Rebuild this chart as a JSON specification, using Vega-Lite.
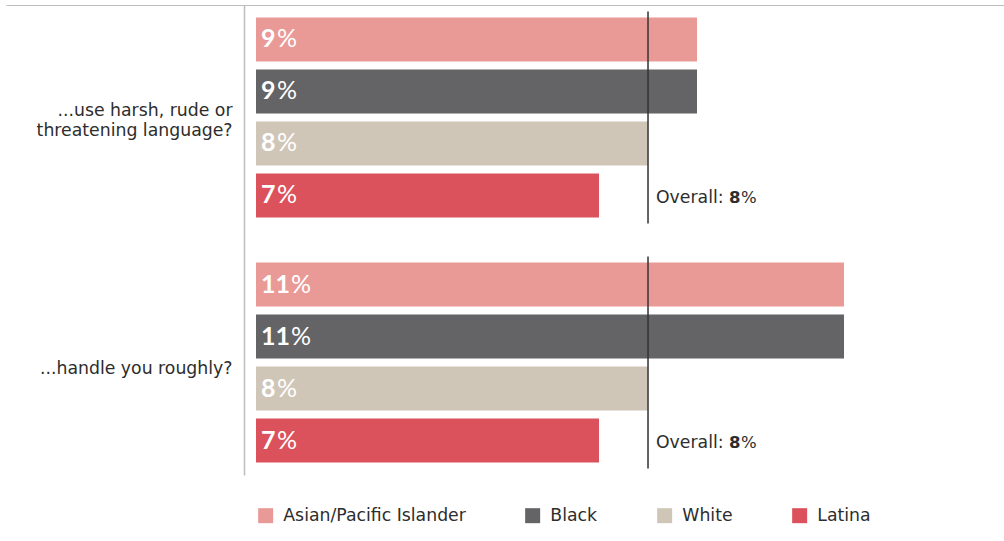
{
  "$schema": "https://vega.github.io/schema/vega-lite/v6.json",
  "width": 998,
  "height": 470,
  "autosize": {"type": "none"},
  "padding": {"left": 6, "top": 5, "right": 0, "bottom": 66},
  "background": "white",
  "config": {"view": {"stroke": null}, "font": "DejaVu Sans"},
  "datasets": {
    "groups": [
      {"question": "...use harsh, rude or threatening language?", "race": "Asian/Pacific Islander", "value": 9, "label": "9"},
      {"question": "...use harsh, rude or threatening language?", "race": "Black", "value": 9, "label": "9"},
      {"question": "...use harsh, rude or threatening language?", "race": "White", "value": 8, "label": "8"},
      {"question": "...use harsh, rude or threatening language?", "race": "Latina", "value": 7, "label": "7"},
      {"question": "...handle you roughly?", "race": "Asian/Pacific Islander", "value": 12, "label": "11"},
      {"question": "...handle you roughly?", "race": "Black", "value": 12, "label": "11"},
      {"question": "...handle you roughly?", "race": "White", "value": 8, "label": "8"},
      {"question": "...handle you roughly?", "race": "Latina", "value": 7, "label": "7"}
    ],
    "overall": [
      {"question": "...use harsh, rude or threatening language?", "overall": 8},
      {"question": "...handle you roughly?", "overall": 8}
    ]
  },
  "layer": [
    {
      "data": {"name": "groups"},
      "mark": {"type": "bar"},
      "encoding": {
        "y": {
          "field": "question", "type": "nominal",
          "sort": ["...use harsh, rude or threatening language?", "...handle you roughly?"],
          "scale": {"paddingInner": 0.1347, "paddingOuter": 0.0265},
          "axis": {
            "orient": "left", "offset": -238, "title": null,
            "domainColor": "#bdbdbd", "domainWidth": 1.5, "ticks": false,
            "labelPadding": 12, "labelFontSize": 17.3, "labelColor": "#2d2d2d",
            "labelFont": "DejaVu Sans", "labelLineHeight": 20, "labelLimit": 400,
            "labelOffset": {"condition": {"test": "datum.value == '...handle you roughly?'", "value": 6}, "value": -6},
            "labelExpr": "datum.label == '...use harsh, rude or threatening language?' ? ['...use harsh, rude or', 'threatening language?'] : datum.label"
          }
        },
        "yOffset": {
          "field": "race", "type": "nominal",
          "sort": ["Asian/Pacific Islander", "Black", "White", "Latina"],
          "scale": {"paddingInner": 0.1538, "paddingOuter": 0.1154}
        },
        "x": {
          "field": "value", "type": "quantitative",
          "scale": {"domain": [-5.102, 15.265], "nice": false, "zero": false},
          "axis": {"orient": "top", "title": null, "domain": true, "domainColor": "#bdbdbd", "domainWidth": 1.2, "labels": false, "ticks": false, "grid": false}
        },
        "x2": {"datum": 0},
        "color": {
          "field": "race", "type": "nominal",
          "scale": {"domain": ["Asian/Pacific Islander", "Black", "White", "Latina"], "range": ["#EA9A96", "#646365", "#D0C6B8", "#DC525C"]},
          "legend": {
            "orient": "none", "legendX": 251, "legendY": 502, "direction": "horizontal",
            "title": null, "symbolType": "square", "symbolSize": 225, "symbolStrokeWidth": 0,
            "symbolOpacity": 1, "labelFontSize": 17.3, "labelColor": "#2d2d2d", "labelFont": "DejaVu Sans",
            "labelOffset": 9, "columnPadding": 58, "padding": 0, "labelLimit": 400
          }
        }
      }
    },
    {
      "data": {"name": "groups"},
      "mark": {"type": "text", "align": "left", "baseline": "middle", "dx": 5, "fontSize": 25, "fontWeight": "bold", "color": "white", "font": "Lato"},
      "encoding": {
        "y": {"field": "question", "type": "nominal", "sort": ["...use harsh, rude or threatening language?", "...handle you roughly?"]},
        "yOffset": {"field": "race", "type": "nominal", "sort": ["Asian/Pacific Islander", "Black", "White", "Latina"]},
        "x": {"datum": 0},
        "text": {"field": "label"}
      }
    },
    {
      "data": {"name": "groups"},
      "transform": [{"filter": "length(datum.label) == 1"}],
      "mark": {"type": "text", "align": "left", "baseline": "middle", "dx": 21, "fontSize": 25, "fontWeight": "normal", "color": "white", "font": "Lato"},
      "encoding": {
        "y": {"field": "question", "type": "nominal", "sort": ["...use harsh, rude or threatening language?", "...handle you roughly?"]},
        "yOffset": {"field": "race", "type": "nominal", "sort": ["Asian/Pacific Islander", "Black", "White", "Latina"]},
        "x": {"datum": 0},
        "text": {"value": "%"}
      }
    },
    {
      "data": {"name": "groups"},
      "transform": [{"filter": "length(datum.label) == 2"}],
      "mark": {"type": "text", "align": "left", "baseline": "middle", "dx": 35, "fontSize": 25, "fontWeight": "normal", "color": "white", "font": "Lato"},
      "encoding": {
        "y": {"field": "question", "type": "nominal", "sort": ["...use harsh, rude or threatening language?", "...handle you roughly?"]},
        "yOffset": {"field": "race", "type": "nominal", "sort": ["Asian/Pacific Islander", "Black", "White", "Latina"]},
        "x": {"datum": 0},
        "text": {"value": "%"}
      }
    },
    {
      "data": {"name": "overall"},
      "mark": {"type": "bar", "fill": "#333333", "stroke": "#333333", "strokeWidth": 1.5},
      "encoding": {
        "y": {"field": "question", "type": "nominal", "sort": ["...use harsh, rude or threatening language?", "...handle you roughly?"]},
        "x": {"field": "overall", "type": "quantitative"},
        "x2": {"field": "overall"}
      }
    },
    {
      "data": {"name": "overall"},
      "mark": {"type": "text", "align": "left", "baseline": "middle", "dx": 8, "fontSize": 17.3, "color": "#2d2d2d", "font": "DejaVu Sans"},
      "encoding": {
        "y": {"field": "question", "type": "nominal", "sort": ["...use harsh, rude or threatening language?", "...handle you roughly?"], "bandPosition": 0.88},
        "x": {"field": "overall", "type": "quantitative"},
        "text": {"value": "Overall:"}
      }
    },
    {
      "data": {"name": "overall"},
      "mark": {"type": "text", "align": "left", "baseline": "middle", "dx": 81, "fontSize": 16.5, "fontWeight": "bold", "color": "#2d2d2d", "font": "DejaVu Sans"},
      "encoding": {
        "y": {"field": "question", "type": "nominal", "sort": ["...use harsh, rude or threatening language?", "...handle you roughly?"], "bandPosition": 0.88},
        "x": {"field": "overall", "type": "quantitative"},
        "text": {"field": "overall", "type": "quantitative"}
      }
    },
    {
      "data": {"name": "overall"},
      "mark": {"type": "text", "align": "left", "baseline": "middle", "dx": 93, "fontSize": 16.5, "color": "#2d2d2d", "font": "DejaVu Sans"},
      "encoding": {
        "y": {"field": "question", "type": "nominal", "sort": ["...use harsh, rude or threatening language?", "...handle you roughly?"], "bandPosition": 0.88},
        "x": {"field": "overall", "type": "quantitative"},
        "text": {"value": "%"}
      }
    }
  ]
}
